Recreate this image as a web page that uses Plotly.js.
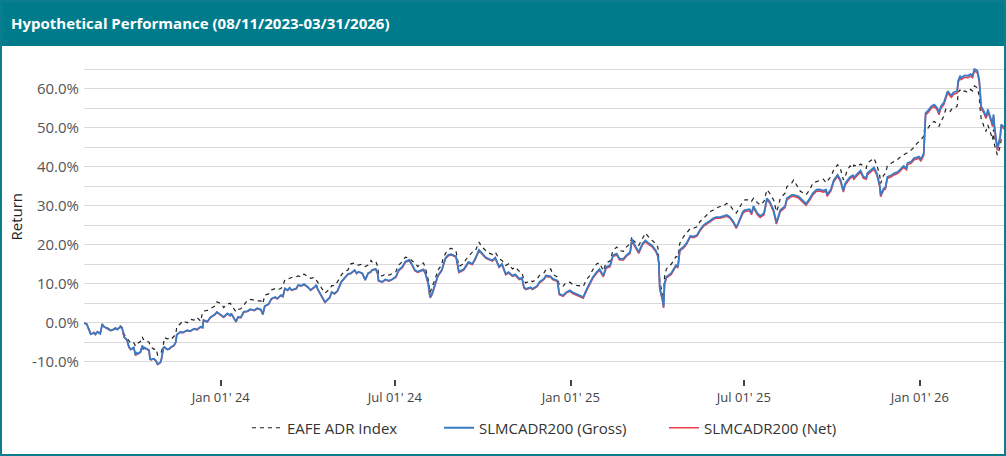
<!DOCTYPE html>
<html><head><meta charset="utf-8">
<script src="https://cdn.plot.ly/plotly-3.0.1.min.js"></script>
<style>
html,body{margin:0;padding:0;background:#fff;}
#wrap{position:relative;width:1006px;height:456px;overflow:hidden;}
#chart{position:absolute;left:0;top:0;width:1006px;height:456px;}
#frame{position:absolute;left:0;top:0;width:1006px;height:456px;box-sizing:border-box;border:2px solid #0b7d8c;pointer-events:none;}
</style></head><body>
<div id="wrap"><div id="chart"></div><div id="frame"></div></div>
<script>
const dates = [
'2023-08-11','2023-08-14','2023-08-18','2023-08-21','2023-08-23','2023-08-25','2023-08-28','2023-08-30','2023-09-01','2023-09-06',
'2023-09-08','2023-09-13','2023-09-15','2023-09-18','2023-09-20','2023-09-22','2023-09-25','2023-09-27','2023-09-29','2023-10-02',
'2023-10-04','2023-10-05','2023-10-06','2023-10-09','2023-10-11','2023-10-12','2023-10-13','2023-10-18','2023-10-19','2023-10-20',
'2023-10-23','2023-10-25','2023-10-26','2023-10-27','2023-10-30','2023-10-31','2023-11-02','2023-11-03','2023-11-06','2023-11-08',
'2023-11-10','2023-11-13','2023-11-15','2023-11-16','2023-11-20','2023-11-22','2023-11-27','2023-11-30','2023-12-04','2023-12-07',
'2023-12-11','2023-12-13','2023-12-14','2023-12-18','2023-12-21','2023-12-26','2023-12-28','2024-01-02','2024-01-04','2024-01-08',
'2024-01-11','2024-01-12','2024-01-17','2024-01-19','2024-01-22','2024-01-25','2024-01-29','2024-02-01','2024-02-05','2024-02-08',
'2024-02-12','2024-02-14','2024-02-16','2024-02-20','2024-02-23','2024-02-27','2024-02-29','2024-03-04','2024-03-06','2024-03-08',
'2024-03-11','2024-03-13','2024-03-15','2024-03-20','2024-03-22','2024-03-25','2024-03-28','2024-04-01','2024-04-04','2024-04-08',
'2024-04-10','2024-04-11','2024-04-15','2024-04-17','2024-04-19','2024-04-24','2024-04-26','2024-04-29','2024-05-02','2024-05-06',
'2024-05-09','2024-05-13','2024-05-16','2024-05-20','2024-05-22','2024-05-24','2024-05-28','2024-05-31','2024-06-03','2024-06-06',
'2024-06-07','2024-06-11','2024-06-13','2024-06-14','2024-06-18','2024-06-21','2024-06-25','2024-06-28','2024-07-02','2024-07-05',
'2024-07-09','2024-07-12','2024-07-16','2024-07-18','2024-07-22','2024-07-25','2024-07-29','2024-07-31','2024-08-02','2024-08-05',
'2024-08-06','2024-08-07','2024-08-09','2024-08-12','2024-08-15','2024-08-19','2024-08-20','2024-08-23','2024-08-26','2024-08-29',
'2024-09-03','2024-09-04','2024-09-06','2024-09-11','2024-09-13','2024-09-16','2024-09-20','2024-09-23','2024-09-27','2024-09-30',
'2024-10-04','2024-10-07','2024-10-11','2024-10-14','2024-10-18','2024-10-21','2024-10-25','2024-10-28','2024-11-01','2024-11-04',
'2024-11-08','2024-11-11','2024-11-13','2024-11-15','2024-11-20','2024-11-22','2024-11-27','2024-11-29','2024-12-04','2024-12-06',
'2024-12-11','2024-12-13','2024-12-18','2024-12-20','2024-12-24','2024-12-27','2024-12-31','2025-01-03','2025-01-07','2025-01-10',
'2025-01-14','2025-01-17','2025-01-21','2025-01-24','2025-01-28','2025-01-31','2025-02-04','2025-02-07','2025-02-11','2025-02-14',
'2025-02-18','2025-02-21','2025-02-25','2025-02-28','2025-03-04','2025-03-06','2025-03-07','2025-03-13','2025-03-17','2025-03-20',
'2025-03-24','2025-03-27','2025-03-31','2025-04-02','2025-04-03','2025-04-04','2025-04-07','2025-04-08','2025-04-09','2025-04-11',
'2025-04-16','2025-04-21','2025-04-23','2025-04-25','2025-04-29','2025-05-02','2025-05-06','2025-05-09','2025-05-13','2025-05-16',
'2025-05-20','2025-05-23','2025-05-27','2025-05-30','2025-06-02','2025-06-06','2025-06-09','2025-06-13','2025-06-16','2025-06-20',
'2025-06-23','2025-06-25','2025-06-30','2025-07-02','2025-07-07','2025-07-09','2025-07-11','2025-07-15','2025-07-18','2025-07-22',
'2025-07-25','2025-07-28','2025-08-01','2025-08-04','2025-08-06','2025-08-08','2025-08-13','2025-08-15','2025-08-20','2025-08-22',
'2025-08-27','2025-08-29','2025-09-04','2025-09-08','2025-09-11','2025-09-15','2025-09-18','2025-09-22','2025-09-25','2025-09-26',
'2025-09-30','2025-10-03','2025-10-07','2025-10-10','2025-10-13','2025-10-15','2025-10-17','2025-10-20','2025-10-23','2025-10-24',
'2025-10-28','2025-10-31','2025-11-03','2025-11-06','2025-11-07','2025-11-11','2025-11-14','2025-11-17','2025-11-19','2025-11-20',
'2025-11-21','2025-11-24','2025-11-26','2025-11-28','2025-12-02','2025-12-05','2025-12-09','2025-12-12','2025-12-15','2025-12-18',
'2025-12-19','2025-12-23','2025-12-26','2025-12-29','2025-12-31','2026-01-02','2026-01-05','2026-01-06','2026-01-07','2026-01-09',
'2026-01-13','2026-01-16','2026-01-19','2026-01-21','2026-01-23','2026-01-26','2026-01-28','2026-01-30','2026-02-02','2026-02-03',
'2026-02-05','2026-02-09','2026-02-10','2026-02-12','2026-02-13','2026-02-17','2026-02-20','2026-02-23','2026-02-25','2026-02-27',
'2026-03-02','2026-03-04','2026-03-05','2026-03-06','2026-03-09','2026-03-11','2026-03-12','2026-03-13','2026-03-16','2026-03-18',
'2026-03-19','2026-03-20','2026-03-23','2026-03-25','2026-03-26','2026-03-27','2026-03-31'
];

// EAFE ADR Index cumulative return (%)
const eafeAdr = [
0.0,-0.3,-2.7,-2.4,-2.8,-2.1,-2.6,-0.3,-0.8,-1.4,
-1.8,-1.3,-1.5,-0.8,-1.2,-3.0,-3.8,-4.6,-5.3,-5.1,
-6.0,-5.5,-5.3,-4.8,-3.6,-4.3,-4.2,-5.0,-5.7,-6.2,
-6.8,-6.6,-7.3,-8.3,-7.8,-7.4,-5.6,-3.8,-4.1,-4.0,
-4.3,-3.6,-2.9,-1.0,-0.2,0.5,0.0,0.9,0.7,1.4,
0.4,2.8,3.0,3.2,3.6,4.3,5.4,4.8,3.9,4.8,
5.0,4.5,2.8,3.4,3.6,4.5,5.8,6.0,5.8,5.6,
5.6,4.9,7.1,7.4,8.4,8.8,8.5,8.8,9.5,11.0,
11.2,11.4,11.6,11.8,12.0,11.8,12.5,11.8,11.4,11.6,
10.9,10.5,9.3,8.4,7.6,8.7,9.5,9.5,10.5,12.2,
13.1,13.5,15.1,15.3,14.9,14.8,15.0,14.4,14.8,16.0,
15.6,15.8,14.5,12.2,12.0,12.5,12.2,12.6,13.1,14.8,
15.7,16.8,16.6,16.1,15.3,14.4,15.3,15.3,14.0,11.0,
8.8,7.7,9.3,11.0,13.5,14.8,16.1,17.8,18.7,19.1,
18.3,16.6,14.4,15.1,16.1,17.0,18.1,18.3,20.7,19.4,
18.5,17.9,17.5,18.1,16.4,16.0,14.7,15.1,13.8,14.3,
13.2,12.8,10.9,10.2,10.9,10.5,11.3,12.1,12.8,13.6,
13.8,12.5,11.7,9.6,9.4,10.3,10.4,9.8,9.6,9.4,
9.3,10.9,12.2,13.6,15.1,15.4,13.3,15.4,15.8,18.5,
19.4,18.5,18.3,19.4,20.3,22.1,21.2,19.8,21.8,23.0,
21.8,21.2,20.2,19.4,16.5,10.5,7.1,6.3,11.8,13.8,
15.0,17.0,16.8,20.4,22.1,23.0,24.2,24.2,24.6,25.9,
26.8,27.6,28.5,28.9,29.4,29.8,29.8,30.6,30.2,28.9,
28.1,28.9,31.1,31.5,31.5,31.1,31.9,30.8,30.2,31.1,
34.1,33.2,31.5,28.5,29.8,31.9,33.2,34.9,35.8,36.6,
34.5,33.7,32.8,34.1,35.8,36.2,36.6,36.8,35.9,36.2,
37.5,39.2,40.5,39.4,36.6,37.5,39.1,40.2,39.6,40.4,
40.0,40.7,40.2,39.6,40.9,41.7,42.2,40.4,38.3,37.8,
35.7,37.8,38.3,40.2,40.9,41.3,41.9,42.6,43.0,43.4,
43.6,44.3,45.0,46.0,46.4,46.9,47.8,49.9,49.5,49.7,
51.2,51.6,51.0,50.3,51.6,52.9,54.7,54.8,54.2,54.7,
54.8,55.5,59.0,59.7,59.1,59.4,59.0,59.8,59.4,60.7,
60.3,58.1,54.7,52.5,50.3,49.0,49.8,50.7,48.6,46.9,
49.5,45.6,43.0,44.3,45.2,46.9,46.5
];

// SLMCADR200 (Gross) cumulative return (%)
const gross = [
0.0,-0.4,-2.9,-2.6,-3.0,-2.3,-2.8,-0.4,-1.0,-1.6,
-2.0,-1.5,-1.7,-1.0,-1.5,-3.6,-4.4,-6.2,-6.8,-6.3,
-8.3,-7.7,-7.9,-7.5,-5.8,-6.8,-6.3,-7.0,-9.2,-9.4,
-9.2,-9.6,-10.3,-10.6,-10.1,-9.2,-6.4,-6.2,-6.8,-6.7,
-6.2,-5.8,-4.9,-3.0,-2.3,-2.5,-1.9,-2.1,-1.5,-1.7,
-1.0,-1.2,0.7,0.3,1.4,2.2,2.8,2.0,1.5,2.4,
1.9,2.4,0.3,1.5,1.4,2.8,3.0,3.5,3.2,3.7,
3.4,2.2,4.3,4.8,6.2,6.6,6.2,7.1,6.8,8.8,
8.4,9.0,8.4,8.8,9.7,9.5,9.9,9.2,8.4,9.2,
9.7,8.8,7.3,6.2,5.3,6.5,7.9,7.5,8.2,10.5,
11.4,12.5,12.7,13.5,12.7,13.1,12.7,11.0,12.7,13.1,
13.5,13.8,12.7,10.8,10.5,11.1,10.8,11.1,11.8,13.5,
14.4,15.7,16.1,15.4,13.5,13.1,13.5,13.7,12.7,10.1,
7.9,6.6,7.5,9.6,12.1,13.5,14.4,16.6,17.4,17.6,
17.0,15.3,13.1,13.7,14.4,15.6,15.1,16.4,18.7,17.9,
16.8,16.4,16.0,16.7,14.4,15.1,12.5,13.0,12.1,12.4,
11.3,11.5,9.1,8.7,9.1,8.7,9.5,10.4,11.3,12.1,
11.9,11.3,10.8,7.4,7.0,7.8,8.3,7.8,7.4,7.0,
6.6,8.3,10.4,11.7,13.0,13.8,12.1,14.3,14.7,17.3,
17.7,16.4,16.4,17.3,18.1,21.5,20.7,18.1,20.3,21.1,
20.3,19.8,18.5,17.3,15.5,9.0,5.9,4.1,10.1,11.8,
12.7,14.8,14.4,18.7,19.5,20.4,22.3,22.1,22.5,23.8,
25.1,25.5,26.2,26.8,27.1,27.1,27.4,27.6,27.2,25.9,
24.5,25.5,28.5,28.9,29.1,28.1,29.9,28.1,27.4,28.1,
31.9,31.1,28.9,25.7,27.2,28.9,29.9,31.9,32.8,32.8,
32.4,31.9,30.5,31.9,33.2,34.1,34.2,33.9,34.1,32.8,
34.2,36.6,37.9,36.6,33.9,35.8,36.4,37.4,37.8,37.2,
38.3,39.0,37.4,37.2,38.3,39.1,39.8,38.3,36.1,35.3,
32.7,34.4,34.7,37.4,37.8,38.3,38.7,39.6,40.2,39.6,
40.9,41.3,42.2,42.4,42.6,41.9,43.4,48.6,53.8,54.2,
55.5,55.9,55.1,53.8,55.5,56.4,57.9,59.4,58.5,58.3,
59.0,59.4,62.0,63.3,62.8,63.4,63.3,63.7,63.3,65.0,
64.6,62.4,59.4,55.5,54.2,52.9,53.4,54.7,52.5,50.8,
53.4,50.3,44.7,46.9,47.8,50.8,50.0
];

// SLMCADR200 (Net) cumulative return (%)
const net = [
0.0,-0.4,-2.9,-2.6,-3.0,-2.3,-2.8,-0.4,-1.0,-1.6,
-2.0,-1.5,-1.7,-1.0,-1.6,-3.7,-4.5,-6.3,-6.9,-6.4,
-8.4,-7.8,-8.0,-7.6,-5.9,-6.9,-6.4,-7.1,-9.3,-9.5,
-9.3,-9.7,-10.4,-10.7,-10.2,-9.3,-6.5,-6.3,-6.9,-6.8,
-6.3,-5.9,-5.0,-3.1,-2.4,-2.6,-2.0,-2.2,-1.6,-1.8,
-1.1,-1.3,0.6,0.2,1.3,2.1,2.7,1.9,1.4,2.3,
1.8,2.3,0.2,1.4,1.3,2.7,2.9,3.4,3.1,3.6,
3.3,2.1,4.2,4.7,6.1,6.5,6.1,7.0,6.7,8.7,
8.3,8.9,8.3,8.7,9.6,9.4,9.8,9.1,8.3,9.1,
9.6,8.7,7.2,6.1,5.2,6.4,7.8,7.4,8.1,10.4,
11.3,12.4,12.6,13.4,12.6,13.0,12.6,10.9,12.6,13.0,
13.4,13.7,12.6,10.7,10.4,11.0,10.7,11.0,11.6,13.3,
14.2,15.5,15.9,15.2,13.3,12.9,13.3,13.5,12.5,9.9,
7.7,6.4,7.3,9.4,11.9,13.3,14.2,16.4,17.2,17.4,
16.8,15.1,12.9,13.5,14.2,15.4,14.9,16.2,18.5,17.7,
16.6,16.2,15.8,16.5,14.2,14.9,12.3,12.8,11.9,12.2,
11.1,11.3,8.9,8.5,8.9,8.5,9.3,10.2,11.1,11.9,
11.7,11.1,10.6,7.2,6.8,7.6,8.1,7.5,7.1,6.7,
6.3,8.0,10.1,11.4,12.7,13.5,11.8,14.0,14.4,17.0,
17.4,16.1,16.1,17.0,17.8,21.2,20.4,17.8,20.0,20.8,
20.0,19.5,18.2,17.0,15.2,8.7,5.6,3.8,9.8,11.5,
12.4,14.5,14.1,18.4,19.2,20.1,22.0,21.8,22.2,23.5,
24.8,25.2,25.9,26.5,26.8,26.8,27.1,27.3,26.9,25.6,
24.2,25.2,28.1,28.5,28.7,27.7,29.5,27.7,27.0,27.7,
31.5,30.7,28.5,25.3,26.8,28.5,29.5,31.5,32.4,32.4,
32.0,31.5,30.1,31.5,32.8,33.7,33.8,33.5,33.7,32.4,
33.8,36.2,37.5,36.2,33.5,35.4,36.0,37.0,37.4,36.8,
37.9,38.6,37.0,36.8,37.9,38.7,39.4,37.9,35.7,34.9,
32.3,34.0,34.3,37.0,37.4,37.9,38.3,39.2,39.8,39.2,
40.5,40.9,41.8,42.0,42.2,41.4,42.9,48.1,53.3,53.7,
55.0,55.4,54.6,53.3,55.0,55.9,57.4,58.9,58.0,57.8,
58.5,58.9,61.5,62.8,62.3,62.9,62.8,63.2,62.8,64.5,
64.1,61.9,58.9,55.0,53.7,52.4,52.9,54.2,52.0,50.3,
52.9,49.8,44.2,46.4,47.3,50.3,49.5
];

const yTickVals = [-10,-5,0,5,10,15,20,25,30,35,40,45,50,55,60,65];
const yTickText = ['-10.0%','','0.0%','','10.0%','','20.0%','','30.0%','','40.0%','','50.0%','','60.0%',''];
const xTickVals = ['2024-01-01','2024-07-01','2025-01-01','2025-07-01','2026-01-01'];
const xTickText = ["Jan 01' 24","Jul 01' 24","Jan 01' 25","Jul 01' 25","Jan 01' 26"];

const TEAL = '#007b8b';
const PL = 84, PR = 1005, PT = 50, PB = 379;
const PW = PR - PL, PH = PB - PT;

const traces = [
  {x: dates, y: eafeAdr, name: 'EAFE ADR Index', type: 'scatter', mode: 'lines',
   line: {color: '#222222', width: 1.2, dash: '4px,4px'}, legendrank: 1, legendwidth: 147, hoverinfo: 'skip'},
  {x: dates, y: net, name: 'SLMCADR200 (Net)', type: 'scatter', mode: 'lines',
   line: {color: '#e8414c', width: 1.6}, legendrank: 3, hoverinfo: 'skip'},
  {x: dates, y: gross, name: 'SLMCADR200 (Gross)', type: 'scatter', mode: 'lines',
   line: {color: '#3a7bc6', width: 1.8}, legendrank: 2, legendwidth: 180, hoverinfo: 'skip'}
];

const layout = {
  width: 1006, height: 456,
  margin: {l: PL, r: 1006 - PR, t: PT, b: 456 - PB, pad: 0},
  paper_bgcolor: '#ffffff', plot_bgcolor: '#ffffff',
  font: {family: '"Open Sans", sans-serif', color: '#444'},
  title: {text: 'Hypothetical Performance (08/11/2023-03/31/2026)',
    font: {family: '"Open Sans", sans-serif', size: 15, color: '#ffffff', weight: 700},
    xref: 'container', x: 11 / 1006, xanchor: 'left',
    yref: 'container', y: 1 - 24 / 456, yanchor: 'middle'},
  shapes: [{type: 'rect', xref: 'paper', yref: 'paper', layer: 'below',
    x0: -PL / PW, x1: (1006 - PL) / PW, y0: (PB - 46) / PH, y1: PB / PH + 0.02,
    fillcolor: TEAL, line: {width: 0}}],
  xaxis: {type: 'date', range: ['2023-08-11', '2026-03-31'], tickmode: 'array',
    tickvals: xTickVals, ticktext: xTickText, showgrid: false, zeroline: false, showline: false,
    ticks: 'outside', ticklen: 6, tickwidth: 1.5, tickcolor: '#444',
    tickfont: {family: '"Open Sans", sans-serif', size: 13, color: '#444'}, fixedrange: true},
  yaxis: {range: [-14.4, 69.9], tickmode: 'array', tickvals: yTickVals, ticktext: yTickText,
    showgrid: true, gridcolor: '#d9d9d9', gridwidth: 1, zeroline: false, showline: false, ticks: '',
    ticklabelstandoff: 4,
    tickfont: {family: '"Open Sans", sans-serif', size: 15, color: '#555'}, fixedrange: true},
  annotations: [{text: 'Return', xref: 'paper', yref: 'paper', x: (15.5 - PL) / PW, y: (PB - 217) / PH,
    textangle: -90, showarrow: false, xanchor: 'center', yanchor: 'middle',
    font: {family: '"Open Sans", sans-serif', size: 15, color: '#222'}}],
  legend: {orientation: 'h', x: 0.5, xanchor: 'center', y: -(428 - PB) / PH, yanchor: 'middle',
    font: {family: '"Open Sans", sans-serif', size: 15, color: '#333'}, traceorder: 'normal',
    bgcolor: 'rgba(0,0,0,0)'},
  showlegend: true,
  hovermode: false
};

Plotly.newPlot('chart', traces, layout, {displayModeBar: false, staticPlot: true});
</script>
</body></html>
